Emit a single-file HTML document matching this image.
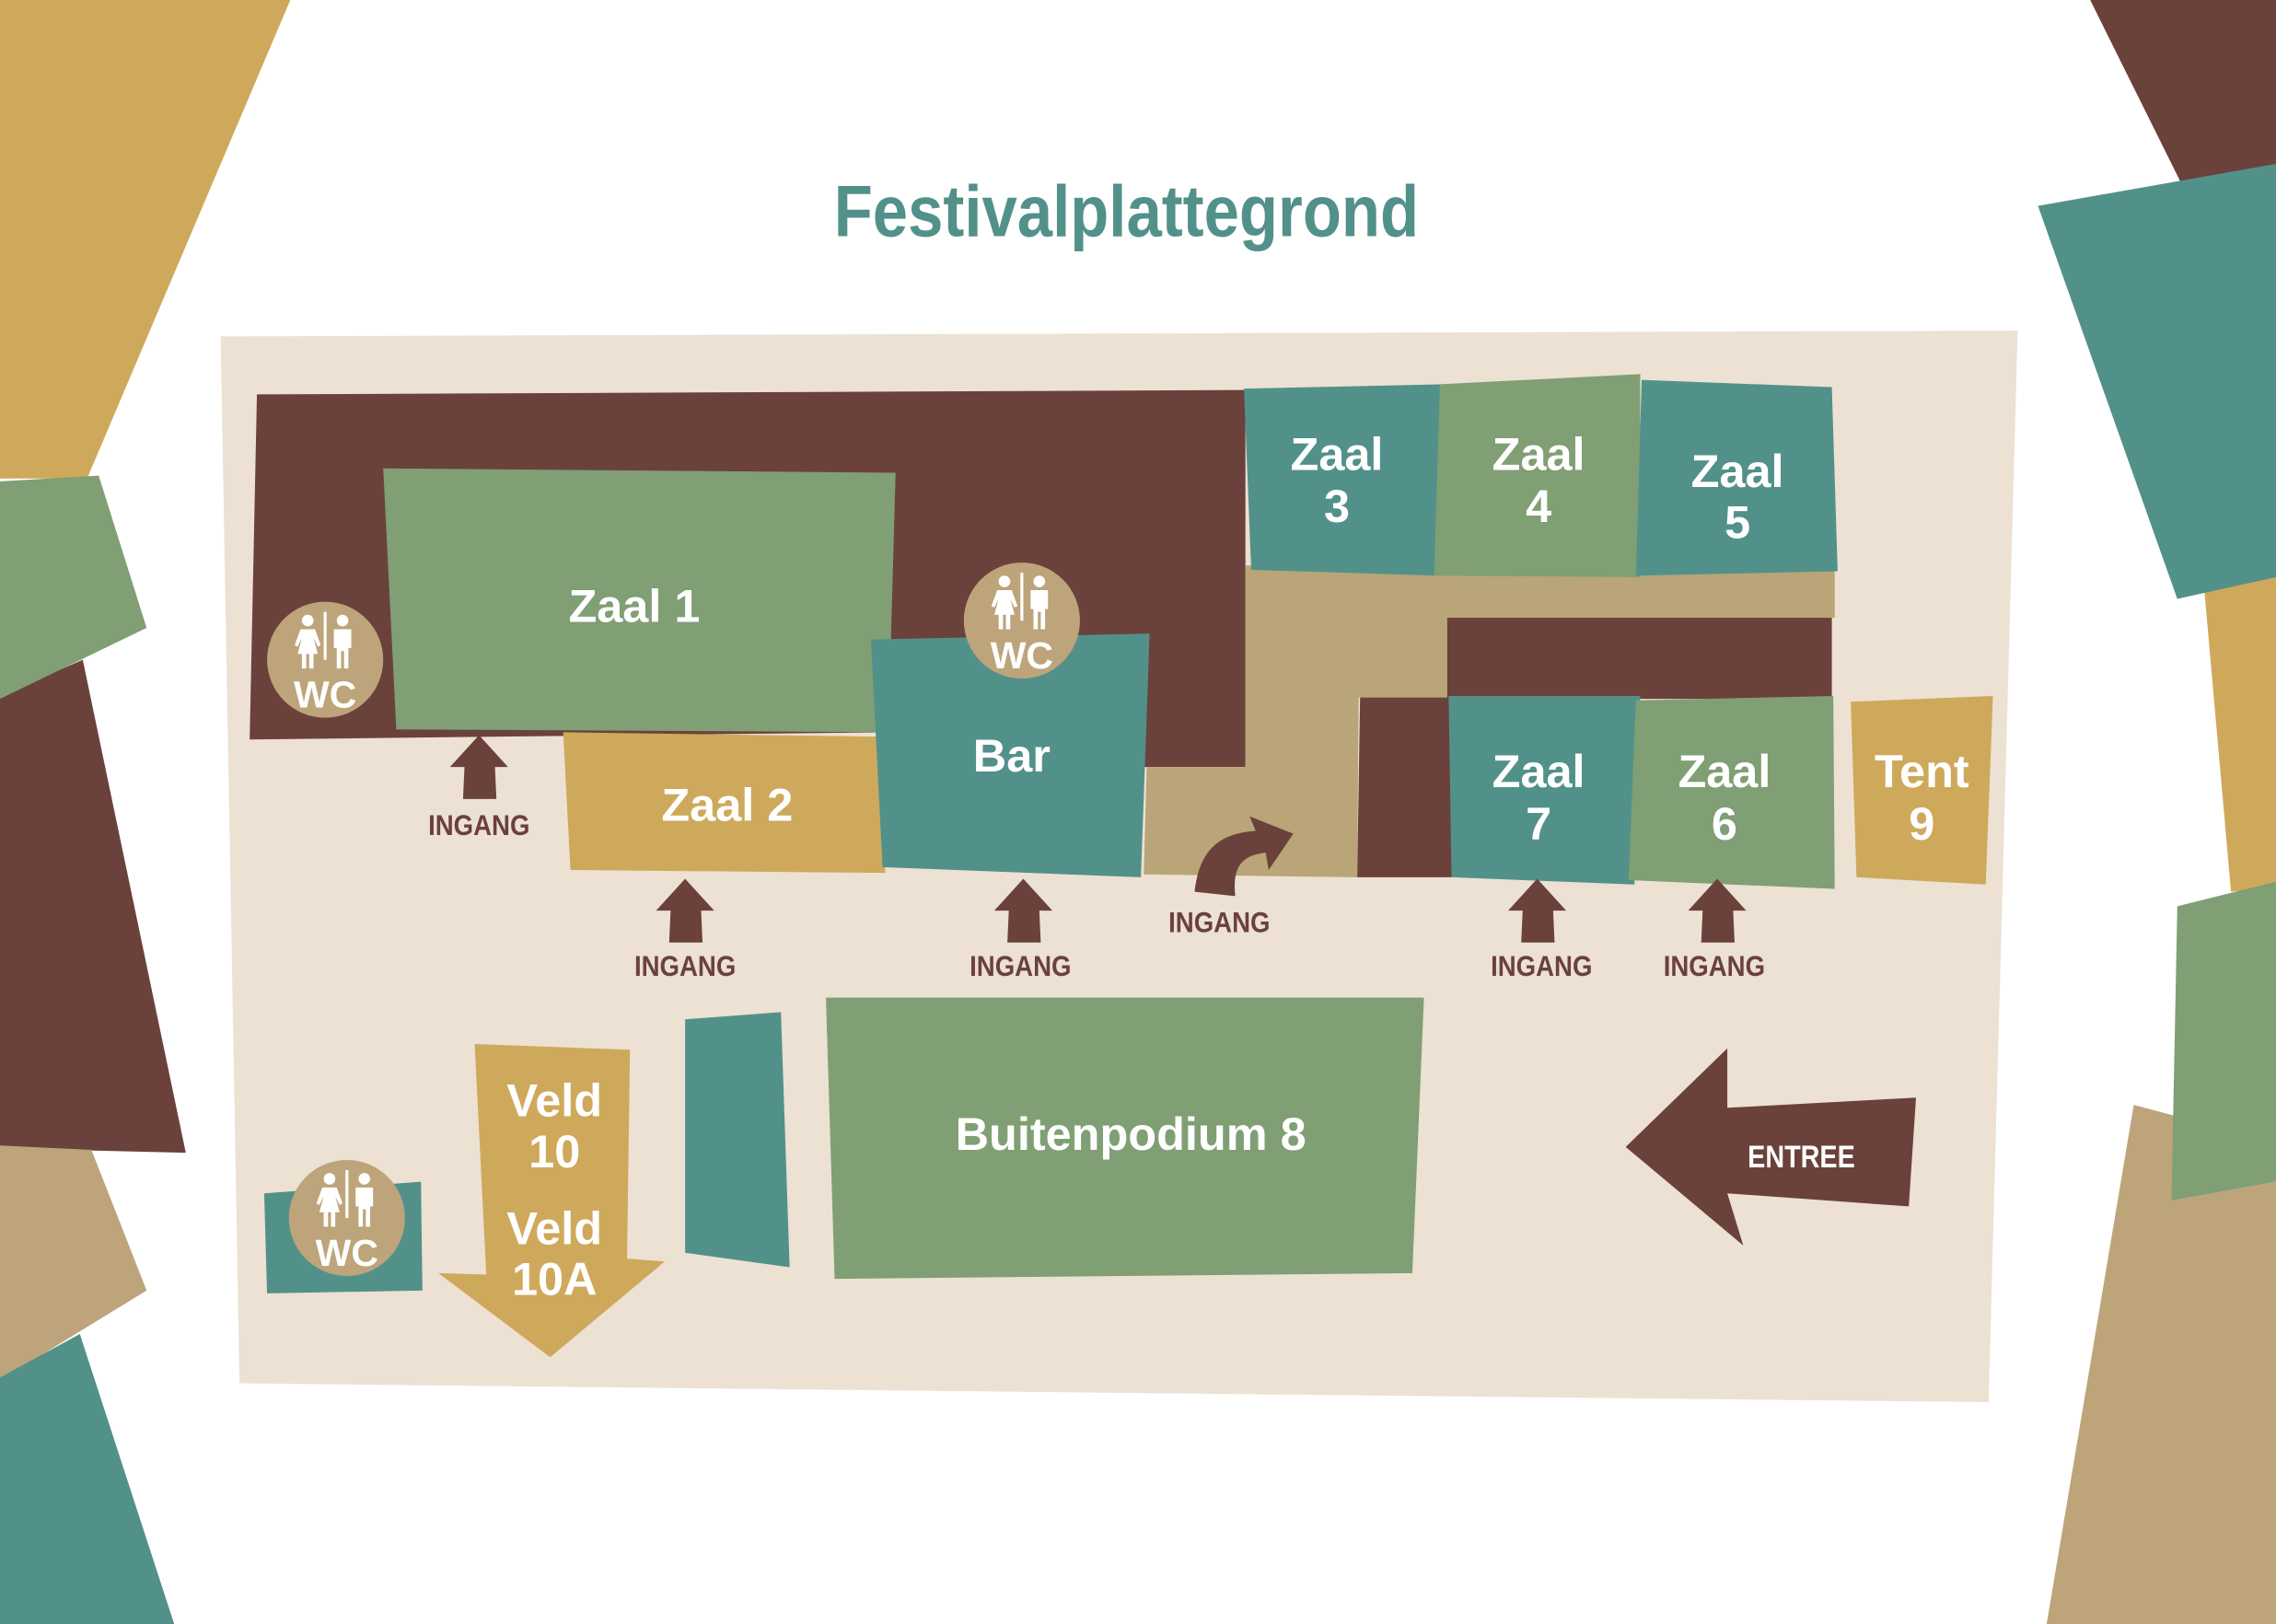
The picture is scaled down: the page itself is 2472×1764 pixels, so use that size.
<!DOCTYPE html>
<html><head><meta charset="utf-8"><style>html,body{margin:0;padding:0;background:#fff}svg{display:block}
text{font-family:"Liberation Sans",sans-serif;font-weight:bold}</style></head><body>
<svg width="2472" height="1764" viewBox="0 0 1568 1120" preserveAspectRatio="none" xmlns="http://www.w3.org/2000/svg">
<defs>
<g id="figs" fill="#fff">
<circle cx="-12" cy="-27" r="4"/>
<path d="M-17,-21 L-7,-21 L-3,-10 L-5,-9 L-8,-15 L-5,-4 L-8,-4 L-8,6 L-11,6 L-11,-4 L-13,-4 L-13,6 L-16,6 L-16,-4 L-19,-4 L-16,-15 L-19,-9 L-21,-10 Z"/>
<rect x="-1" y="-33" width="2" height="33"/>
<circle cx="12" cy="-27" r="4"/>
<path d="M6,-21 L18,-21 L18,-8 L16,-8 L16,6 L13,6 L13,-6 L11,-6 L11,6 L8,6 L8,-8 L6,-8 Z"/>
</g>
<path id="up" d="M0,0 L20,22 L11,22 L12,44 L-11,44 L-10,22 L-20,22 Z" fill="#6b413c"/>
</defs>
<polygon points="0,0 200,0 60,330 0,330" fill="#cfa95b"/>
<polygon points="0,480 57,455 128,795 0,792" fill="#6b413c"/>
<polygon points="0,332 68,328 101,433 0,482" fill="#809f74"/>
<polygon points="0,790 63,793 101,890 0,952" fill="#bda47a"/>
<polygon points="0,950 55,920 120,1120 0,1120" fill="#52918a"/>
<polygon points="1440,0 1568,0 1568,115 1502,125" fill="#6b413c"/>
<polygon points="1518,400 1568,398 1568,612 1537,615" fill="#cfa95b"/>
<polygon points="1404,142 1568,113 1568,398 1500,413" fill="#52918a"/>
<polygon points="1470,762 1500,770 1496,828 1568,815 1568,1120 1410,1120" fill="#bda47a"/>
<polygon points="1500,625 1568,608 1568,815 1496,828" fill="#809f74"/>
<text x="776" y="163" text-anchor="middle" font-size="50" fill="#52918a" textLength="403" lengthAdjust="spacingAndGlyphs">Festivalplattegrond</text>
<polygon points="152,232 1390,228 1370,967 165,954" fill="#ece1d3"/>
<polygon points="177,272 858,269 858,529 612,529 612,505 172,510" fill="#6b413c"/>
<polygon points="858,390 1264,392 1264,426 997,426 997,481 936,481 935,605 788,603 790,529 858,529" fill="#b9a577"/>
<polygon points="997,426 1262,426 1262,482 1000,482 1000,605 935,605 937,481 997,481" fill="#6b413c"/>
<polygon points="857,268 995,265 990,397 862,393" fill="#52918a"/>
<polygon points="992,265 1130,258 1130,398 988,397" fill="#809f74"/>
<polygon points="1131,262 1262,267 1266,394 1127,397" fill="#52918a"/>
<polygon points="264,323 617,326 612,505 273,503" fill="#809f74"/>
<polygon points="388,505 604,508 610,602 393,600" fill="#cfa95b"/>
<polygon points="600,441 792,437 786,605 608,598" fill="#52918a"/>
<polygon points="998,480 1130,480 1126,610 1000,605" fill="#52918a"/>
<polygon points="1127,483 1263,480 1264,613 1122,607" fill="#809f74"/>
<polygon points="1275,484 1373,480 1368,610 1279,605" fill="#cfa95b"/>
<polygon points="569,688 981,688 973,878 575,882" fill="#809f74"/>
<polygon points="472,703 538,698 544,874 472,864" fill="#52918a"/>
<polygon points="182,823 290,815 291,890 184,892" fill="#52918a"/>
<polygon points="327,720 434,724 432,868 458,870 379,936 302,878 335,879" fill="#cfa95b"/>
<polygon points="1120,791 1190,723 1190,764 1320,757 1315,832 1190,823 1201,859" fill="#6b413c"/>
<g><circle cx="224" cy="455" r="40" fill="#bda47a"/><use href="#figs" x="224" y="455"/><text x="224" y="488" text-anchor="middle" font-size="26" fill="#fff">WC</text></g>
<g><circle cx="704" cy="428" r="40" fill="#bda47a"/><use href="#figs" x="704" y="428"/><text x="704" y="461" text-anchor="middle" font-size="26" fill="#fff">WC</text></g>
<g><circle cx="239" cy="840" r="40" fill="#bda47a"/><use href="#figs" x="239" y="840"/><text x="239" y="873" text-anchor="middle" font-size="26" fill="#fff">WC</text></g>
<use href="#up" x="330" y="507"/>
<use href="#up" x="472" y="606"/>
<use href="#up" x="705" y="606"/>
<use href="#up" x="1059" y="606"/>
<use href="#up" x="1183" y="606"/>
<path d="M823,615 C826,590 836,575 865,573 L861,563 L891,575 L874,600 L872,588 C855,590 849,598 851,618 Z" fill="#6b413c"/>
<g font-size="20" fill="#6b413c" text-anchor="middle">
<text x="330" y="576" textLength="70" lengthAdjust="spacingAndGlyphs">INGANG</text>
<text x="472" y="673" textLength="70" lengthAdjust="spacingAndGlyphs">INGANG</text>
<text x="703" y="673" textLength="70" lengthAdjust="spacingAndGlyphs">INGANG</text>
<text x="840" y="643" textLength="70" lengthAdjust="spacingAndGlyphs">INGANG</text>
<text x="1062" y="673" textLength="70" lengthAdjust="spacingAndGlyphs">INGANG</text>
<text x="1181" y="673" textLength="70" lengthAdjust="spacingAndGlyphs">INGANG</text>
</g>
<text x="1241" y="805" text-anchor="middle" font-size="22" fill="#fff" textLength="74" lengthAdjust="spacingAndGlyphs">ENTREE</text>
<g fill="#fff" font-size="32" text-anchor="middle">
<text x="437" y="429">Zaal 1</text>
<text x="501" y="566">Zaal 2</text>
<text x="697" y="532">Bar</text>
<text x="921" y="324">Zaal</text><text x="921" y="360">3</text>
<text x="1060" y="324">Zaal</text><text x="1060" y="360">4</text>
<text x="1197" y="336">Zaal</text><text x="1197" y="371">5</text>
<text x="1060" y="543">Zaal</text><text x="1060" y="579">7</text>
<text x="1188" y="543">Zaal</text><text x="1188" y="579">6</text>
<text x="1324" y="543">Tent</text><text x="1324" y="579">9</text>
<text x="382" y="770">Veld</text><text x="382" y="805">10</text>
<text x="382" y="858">Veld</text><text x="382" y="893">10A</text>
<text x="779" y="793">Buitenpodium 8</text>
</g>
</svg>
</body></html>
